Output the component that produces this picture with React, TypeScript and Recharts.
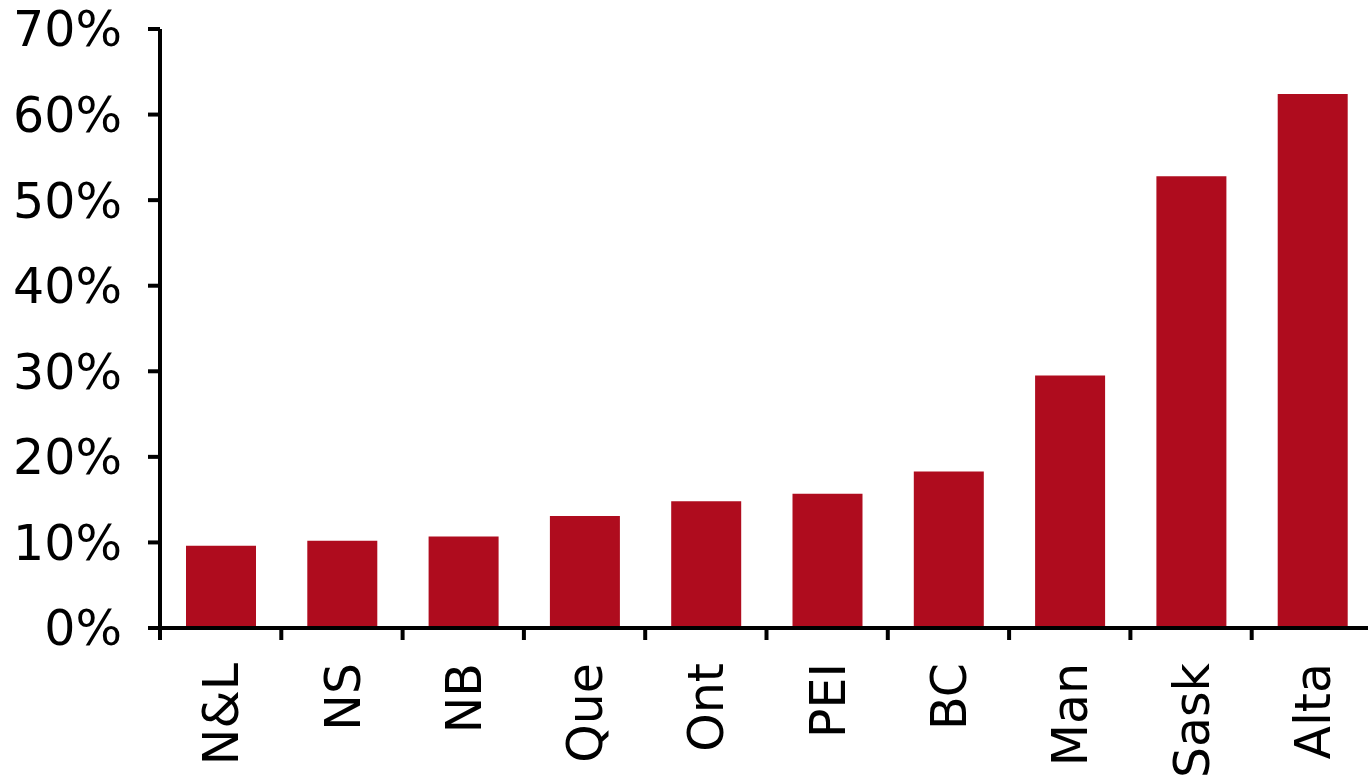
import { BarChart, Bar, XAxis, YAxis } from "recharts";

const provinces = ["N&L", "NS", "NB", "Que", "Ont", "PEI", "BC", "Man", "Sask", "Alta"];
const shares = [9.6, 10.2, 10.7, 13.1, 14.8, 15.7, 18.3, 29.5, 52.8, 62.4];
const yTicks = [0, 10, 20, 30, 40, 50, 60, 70];
const edgeTicks = [0, 1, 2, 3, 4, 5, 6, 7, 8, 9, 10];

const data = provinces.map((name, i) => ({ name, value: shares[i], idx: i + 0.5 }));

const FONT = "'DejaVu Sans', Verdana, sans-serif";

const RotatedTick = ({ x, y, payload }: any) => (
  <g transform={`translate(${x},${y + 34})`}>
    <text
      transform="rotate(-90)"
      textAnchor="end"
      dy="0.36em"
      fontSize={49}
      fontFamily={FONT}
      fill="#000"
    >
      {payload.value}
    </text>
  </g>
);

const NoLabel = () => <g />;

export default function App() {
  return (
    <div style={{ position: "absolute", left: 0, top: 0, width: 1368, height: 782, overflow: "hidden", background: "#fff" }}>
      <BarChart width={1380} height={782} data={data} margin={{ top: 29, right: 7, left: 0, bottom: 0 }}>
        <XAxis
          xAxisId="a_edges"
          type="number"
          dataKey="idx"
          domain={[0, 10]}
          ticks={edgeTicks}
          interval={0}
          tick={<NoLabel />}
          tickSize={12}
          height={1}
          stroke="#000"
          strokeWidth={4}
          axisLine={{ stroke: "#000", strokeWidth: 4 }}
          tickLine={{ stroke: "#000", strokeWidth: 4 }}
        />
        <XAxis
          xAxisId="b_cats"
          dataKey="name"
          interval={0}
          height={153}
          axisLine={false}
          tickLine={false}
          tickSize={0}
          tickMargin={0}
          tick={<RotatedTick />}
        />
        <YAxis
          width={160}
          domain={[0, 70]}
          ticks={yTicks}
          interval={0}
          tickFormatter={(v: number) => `${v}%`}
          tickSize={12}
          tickMargin={26}
          stroke="#000"
          strokeWidth={4}
          axisLine={{ stroke: "#000", strokeWidth: 4 }}
          tickLine={{ stroke: "#000", strokeWidth: 4 }}
          tick={{ fontSize: 49, fontFamily: FONT, fill: "#000", strokeWidth: 0 }}
        />
        <Bar xAxisId="b_cats" dataKey="value" fill="#AF0C1E" barSize={70} isAnimationActive={false} />
      </BarChart>
    </div>
  );
}
